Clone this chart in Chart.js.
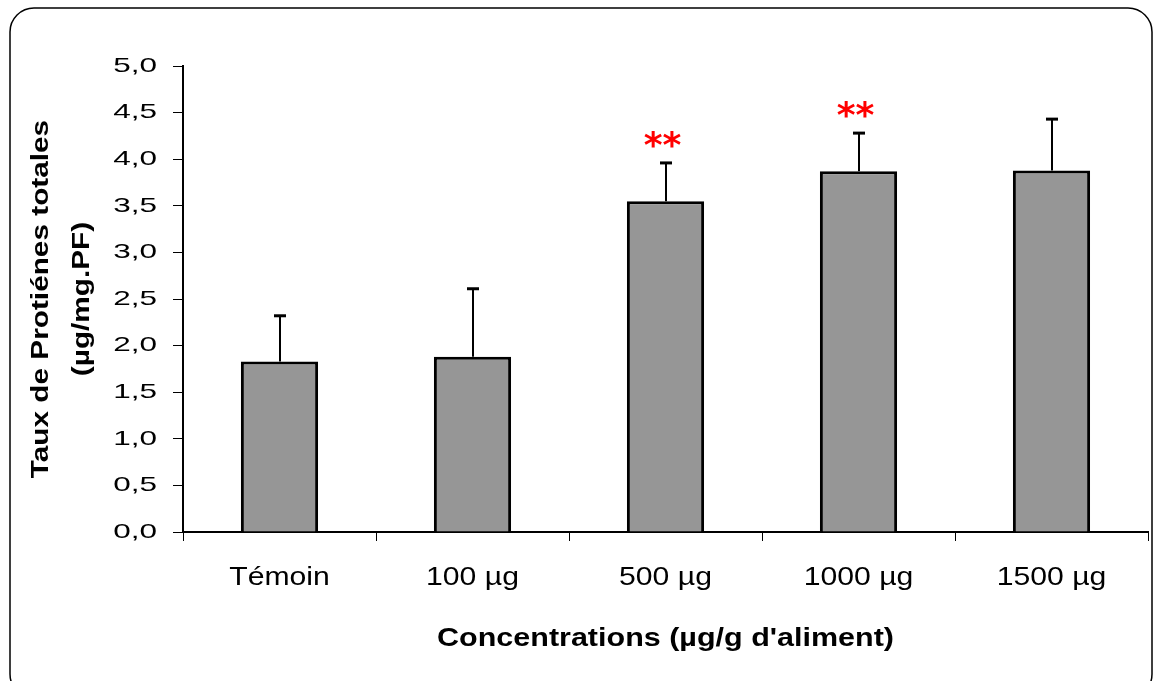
<!DOCTYPE html>
<html>
<head>
<meta charset="utf-8">
<title>Taux de protéines totales</title>
<script src="https://cdn.jsdelivr.net/npm/chart.js@4"></script>
<style>
  body { margin: 0; background: #fff; }
  canvas { display: block; }
</style>
</head>
<body>
<canvas id="chart" width="1154" height="681"></canvas>
<script>
const categories = ['Témoin', '100 µg', '500 µg', '1000 µg', '1500 µg'];
const proteins = [1.83, 1.88, 3.55, 3.87, 3.88];
const errors = [0.49, 0.73, 0.41, 0.41, 0.55];
const stars = ['', '', '**', '**', ''];
const yTickLabels = ['0,0', '0,5', '1,0', '1,5', '2,0', '2,5', '3,0', '3,5', '4,0', '4,5', '5,0'];

// the original fonts are wider than Arial, stretch text by font size
const textStretch = { 21: 1.5, 24: 1.24, 25: 1.22, 26: 1.16 };

const stretchText = {
  id: 'stretchText',
  beforeDraw(chart) {
    const ctx = chart.ctx;
    if (ctx._plainFillText) return;
    const plain = ctx.fillText;
    ctx._plainFillText = plain;
    ctx.fillText = function (text, x, y, maxWidth) {
      const m = /(\d+)px/.exec(this.font);
      const sx = m ? (textStretch[m[1]] || 1) : 1;
      if (sx === 1) {
        return maxWidth === undefined ? plain.call(this, text, x, y) : plain.call(this, text, x, y, maxWidth);
      }
      this.save();
      this.translate(x, y);
      this.scale(sx, 1);
      plain.call(this, text, 0, 0);
      this.restore();
    };
  }
};

const frame = {
  id: 'frame',
  beforeDraw(chart) {
    const ctx = chart.ctx;
    ctx.save();
    ctx.strokeStyle = '#000';
    ctx.lineWidth = 1.5;
    ctx.beginPath();
    ctx.roundRect(10, 8, 1142, 690, 24);
    ctx.stroke();
    ctx.restore();
  }
};

const errorBars = {
  id: 'errorBars',
  afterDatasetsDraw(chart) {
    const ctx = chart.ctx;
    const y = chart.scales.y;
    const bars = chart.getDatasetMeta(0).data;
    ctx.save();
    ctx.strokeStyle = '#000';
    bars.forEach((bar, i) => {
      const top = y.getPixelForValue(proteins[i] + errors[i]);
      ctx.lineWidth = 2;
      ctx.beginPath();
      ctx.moveTo(bar.x + 0.5, bar.y);
      ctx.lineTo(bar.x + 0.5, top);
      ctx.stroke();
      ctx.lineWidth = 3;
      ctx.beginPath();
      ctx.moveTo(bar.x - 5.5, top);
      ctx.lineTo(bar.x + 6.5, top);
      ctx.stroke();
      if (stars[i]) {
        ctx.fillStyle = '#ff0000';
        ctx.font = 'bold 36px "DejaVu Sans"';
        ctx.textAlign = 'center';
        ctx.textBaseline = 'alphabetic';
        ctx.fillText(stars[i], bar.x - 3, top - 6);
      }
    });
    ctx.restore();
  }
};

Chart.defaults.font.family = '"Liberation Sans", Arial, sans-serif';
Chart.defaults.color = '#000';

new Chart(document.getElementById('chart'), {
  type: 'bar',
  data: {
    labels: categories,
    datasets: [{
      data: proteins,
      backgroundColor: '#969696',
      borderColor: '#000',
      borderWidth: 3,
      categoryPercentage: 1,
      barPercentage: 0.4
    }]
  },
  options: {
    responsive: false,
    animation: false,
    layout: { padding: { top: 66, right: 6, left: 0, bottom: 0 } },
    plugins: {
      legend: { display: false },
      tooltip: { enabled: false }
    },
    scales: {
      x: {
        afterFit: (s) => { s.height = 149; },
        border: { color: '#000', width: 2 },
        grid: { drawOnChartArea: false, color: '#000', tickLength: 9, lineWidth: 1 },
        ticks: { font: { size: 26 }, padding: 21, autoSkip: false, maxRotation: 0 },
        title: {
          display: true,
          text: "Concentrations (µg/g d'aliment)",
          font: { size: 25, weight: 'bold' },
          padding: { top: 0, bottom: 27 }
        }
      },
      y: {
        min: 0,
        max: 5,
        afterFit: (s) => { s.width = 183; },
        border: { color: '#000', width: 2 },
        grid: { drawOnChartArea: false, color: '#000', tickLength: 10, lineWidth: 1 },
        ticks: {
          stepSize: 0.5,
          font: { size: 21 },
          padding: 16,
          callback: (v, i) => yTickLabels[i]
        },
        title: {
          display: true,
          text: ['Taux de Protiénes totales', '(µg/mg.PF)'],
          font: { size: 24, weight: 'bold', lineHeight: 1.7 },
          padding: { top: 21, bottom: 0 }
        }
      }
    }
  },
  plugins: [stretchText, frame, errorBars]
});
</script>
</body>
</html>
